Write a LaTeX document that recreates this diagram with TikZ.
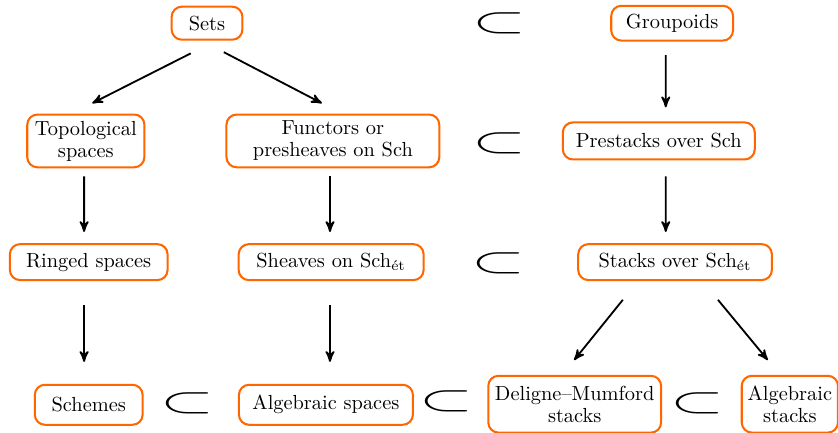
\documentclass[tikz,border=0pt]{standalone}
\usepackage{amsmath,amsfonts,amssymb}
\usepackage{graphicx}
\usepackage{tikz}
\usetikzlibrary{arrows}
\definecolor{boxorange}{RGB}{255,102,0}
\newcommand{\bigsub}{\scalebox{3.4}[1.8]{$\subset$}}
\tikzset{
	box/.style={draw=boxorange, line width=1pt, rounded corners=5pt, inner sep=2pt, align=center, font=\fontsize{10}{10.8}\selectfont},
	incl/.style={inner sep=0pt},
	arr/.style={->, >=stealth', line width=0.9pt}
}

\begin{document}
\begin{tikzpicture}
					\useasboundingbox (0,0) rectangle (14.45,7.45);
					\node[box, minimum width=1.22cm, minimum height=0.57cm] (sets) at (3.57,7.05) {Sets};
					\node[box, minimum width=2.10cm, minimum height=0.60cm] (grp) at (11.59,7.05) {Groupoids};
					\node[box, minimum width=2.02cm, minimum height=0.91cm] (top) at (1.48,5.02) {Topological\\ spaces};
					\node[box, minimum width=3.67cm, minimum height=0.91cm] (fun) at (5.74,5.02) {Functors or\\ presheaves on Sch};
					\node[box, minimum width=3.31cm, minimum height=0.64cm] (pre) at (11.36,5.02) {Prestacks over Sch};
					\node[box, minimum width=2.72cm, minimum height=0.62cm] (rng) at (1.53,2.93) {Ringed spaces};
					\node[box, minimum width=3.19cm, minimum height=0.62cm] (shv) at (5.71,2.93) {Sheaves on Sch$_{\text{ét}}$};
					\node[box, minimum width=3.34cm, minimum height=0.62cm] (stk) at (11.64,2.93) {Stacks over Sch$_{\text{ét}}$};
					\node[box, minimum width=1.86cm, minimum height=0.69cm] (sch) at (1.53,0.47) {Schemes};
					\node[box, minimum width=3.00cm, minimum height=0.69cm] (asp) at (5.62,0.47) {Algebraic spaces};
					\node[box, minimum width=2.98cm, minimum height=0.98cm] (dm) at (9.91,0.48) {Deligne--Mumford\\ stacks};
					\node[box, minimum width=1.66cm, minimum height=0.98cm] (ast) at (13.62,0.48) {Algebraic\\ stacks};
					% inclusions
					\node[incl] (i1) at (8.61,7.05) {\bigsub};
					\node[incl] (i2) at (8.61,4.97) {\bigsub};
					\node[incl] (i3) at (8.60,2.91) {\bigsub};
					\node[incl] (i4) at (3.24,0.50) {\bigsub};
					\node[incl] (i5) at (7.69,0.53) {\bigsub};
					\node[incl] (i6) at (12.03,0.49) {\bigsub};
					% arrows
					\draw[arr] ([shift={(-0.28,-0.52)}]sets.center) -- ([shift={(0.11,0.65)}]top.center);
					\draw[arr] ([shift={(0.29,-0.50)}]sets.center) -- ([shift={(-0.19,0.65)}]fun.center);
					\draw[arr] ([shift={(-0.11,-0.55)}]grp.center) -- ([shift={(0.12,0.58)}]pre.center);
					\draw[arr] ([shift={(-0.03,-0.61)}]top.center) -- ([shift={(-0.08,0.52)}]rng.center);
					\draw[arr] ([shift={(-0.05,-0.61)}]fun.center) -- ([shift={(-0.02,0.52)}]shv.center);
					\draw[arr] ([shift={(0.12,-0.61)}]pre.center) -- ([shift={(-0.16,0.52)}]stk.center);
					\draw[arr] ([shift={(-0.08,-0.74)}]rng.center) -- ([shift={(-0.08,0.74)}]sch.center);
					\draw[arr] ([shift={(-0.02,-0.74)}]shv.center) -- ([shift={(0.07,0.74)}]asp.center);
					\draw[arr] ([shift={(-0.90,-0.65)}]stk.center) -- ([shift={(-0.01,0.76)}]dm.center);
					\draw[arr] ([shift={(0.74,-0.65)}]stk.center) -- ([shift={(-0.38,0.76)}]ast.center);
\end{tikzpicture}
\end{document}
